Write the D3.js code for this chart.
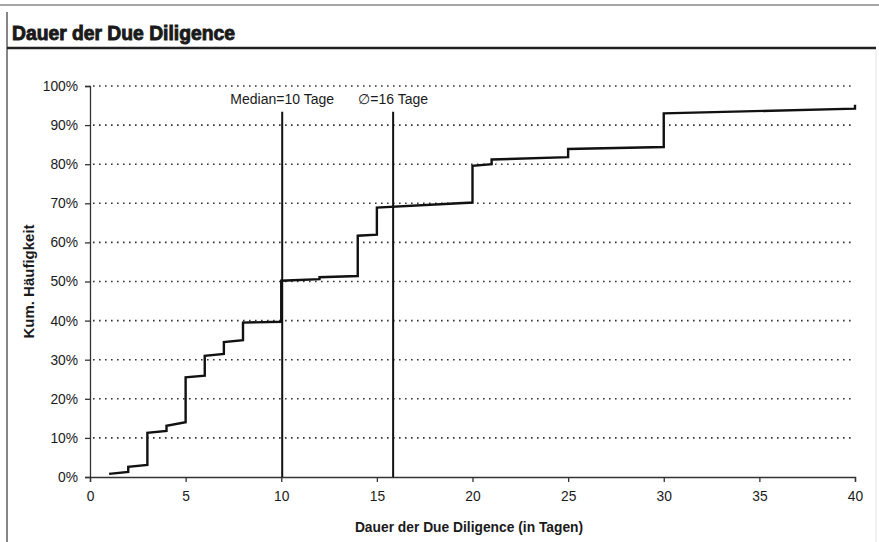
<!DOCTYPE html>
<html><head><meta charset="utf-8">
<script src="https://cdn.jsdelivr.net/npm/d3@7"></script>
<style>
html,body{margin:0;padding:0;background:#fff;}
svg{display:block;}
text{font-family:"Liberation Sans", Arial, sans-serif;fill:#1a1a1a;}
</style></head>
<body>
<script>
// Data (cumulative frequency, %)
const days   = [1, 2, 2, 3, 3, 4, 4, 5, 5, 6, 6, 7, 7, 8, 8, 10, 10, 12, 12, 14, 14, 15, 15, 20, 20, 21, 21, 25, 25, 30, 30, 40, 40];
const cumPct = [0.8, 1.3, 2.6, 3.1, 11.3, 11.8, 13.1, 14.0, 25.5, 25.9, 31.0, 31.5, 34.5, 35.0, 39.5, 39.7, 50.2, 50.6, 51.1, 51.4, 61.7, 62.0, 68.9, 70.2, 79.6, 80.0, 81.2, 81.8, 83.9, 84.4, 93.0, 94.2, 95.2];
const xTicks = [0, 5, 10, 15, 20, 25, 30, 35, 40];
const yTicks = [0, 10, 20, 30, 40, 50, 60, 70, 80, 90, 100];
const markerNames  = ["Median=10 Tage", "\u2205=16 Tage"];
const markerValues = [10.05, 15.85];
const markerTop = 93.4;
const title = "Dauer der Due Diligence";
const xTitle = "Dauer der Due Diligence (in Tagen)";
const yTitle = "Kum. Häufigkeit";

const W = 879, H = 542;
const svg = d3.select("body").append("svg").attr("width", W).attr("height", H);

// frame / header
svg.append("line").attr("x1", 0).attr("x2", W).attr("y1", 5).attr("y2", 5)
  .attr("stroke", "#888").attr("stroke-width", 1.5);
svg.append("line").attr("x1", 7).attr("x2", 7).attr("y1", 12).attr("y2", H)
  .attr("stroke", "#444").attr("stroke-width", 1.3);
svg.append("line").attr("x1", 876).attr("x2", 876).attr("y1", 50).attr("y2", H)
  .attr("stroke", "#e4e4e4").attr("stroke-width", 1);
svg.append("line").attr("x1", 7).attr("x2", 876).attr("y1", 48).attr("y2", 48)
  .attr("stroke", "#222").attr("stroke-width", 2.5);
svg.append("text").attr("x", 12).attr("y", 40).text(title)
  .attr("font-size", 19.3).attr("font-weight", "bold")
  .attr("stroke", "#1a1a1a").attr("stroke-width", 0.9);

const x = d3.scaleLinear().domain([0, 40]).range([90, 855]);
const y = d3.scaleLinear().domain([0, 100]).range([477, 86]);

// grid
svg.append("g").selectAll("line").data(yTicks.filter(d => d > 0)).join("line")
  .attr("x1", x(0) + 3).attr("x2", x(40)).attr("y1", d => y(d)).attr("y2", d => y(d))
  .attr("stroke", "#333").attr("stroke-width", 1.6).attr("stroke-dasharray", "1.6,4.4");

// y axis
const yAxis = svg.append("g").attr("transform", `translate(${x(0)},0)`)
  .call(d3.axisLeft(y).tickValues(yTicks).tickFormat(d => d + "%").tickSize(5).tickPadding(7));
yAxis.select(".domain").attr("stroke", "#333").attr("stroke-width", 1.3);
yAxis.selectAll(".tick line").attr("stroke", "#333").attr("stroke-width", 1.3);
yAxis.selectAll("text").attr("font-size", 13.8).attr("font-family", "Liberation Sans, Arial, sans-serif").attr("fill", "#1a1a1a");

// x axis
const xAxis = svg.append("g").attr("transform", `translate(0,${y(0)})`)
  .call(d3.axisBottom(x).tickValues(xTicks).tickSize(5).tickPadding(9).tickSizeOuter(5));
xAxis.select(".domain").attr("stroke", "#333").attr("stroke-width", 1.3);
xAxis.selectAll(".tick line").attr("stroke", "#333").attr("stroke-width", 1.3);
xAxis.selectAll("text").attr("font-size", 13.8).attr("font-family", "Liberation Sans, Arial, sans-serif").attr("fill", "#1a1a1a");

// marker lines
svg.append("g").selectAll("line").data(markerValues).join("line")
  .attr("x1", d => x(d)).attr("x2", d => x(d)).attr("y1", y(markerTop)).attr("y2", y(0))
  .attr("stroke", "#111").attr("stroke-width", 2);
svg.append("g").selectAll("text").data(markerNames).join("text")
  .attr("x", (d, i) => x(markerValues[i])).attr("y", 104).attr("text-anchor", "middle")
  .attr("font-size", 14).text(d => d);

// step line
const pts = days.map((d, i) => [d, cumPct[i]]);
svg.append("path").datum(pts)
  .attr("fill", "none").attr("stroke", "#111").attr("stroke-width", 2.4)
  .attr("stroke-linejoin", "miter")
  .attr("d", d3.line().x(d => x(d[0])).y(d => y(d[1])));

// axis titles
svg.append("text").attr("x", 469).attr("y", 532).attr("text-anchor", "middle")
  .attr("font-size", 13.8).attr("font-weight", "bold").text(xTitle);
svg.append("text").attr("transform", `translate(34,${(y(0) + y(100)) / 2}) rotate(-90)`)
  .attr("text-anchor", "middle").attr("font-size", 15).attr("font-weight", "bold").text(yTitle);
</script>
</body></html>
